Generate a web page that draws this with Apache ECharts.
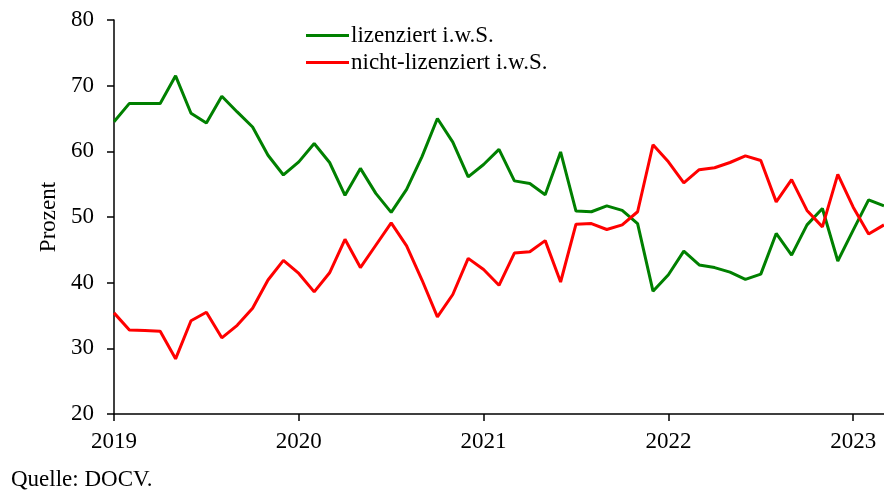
<!DOCTYPE html>
<html>
<head>
<meta charset="utf-8">
<script src="https://cdn.jsdelivr.net/npm/echarts@6/dist/echarts.min.js"></script>
<style>html,body{margin:0;padding:0;background:#fff}#c{width:884px;height:495px}</style>
</head>
<body>
<div id="c"></div>
<script>
const years = [2019, 2020, 2021, 2022, 2023];
const monthsInLastYear = 3;
const categories = [];
years.forEach(function (y, yi) {
  const n = yi === years.length - 1 ? monthsInLastYear : 12;
  for (let m = 1; m <= n; m++) categories.push(y + '-' + (m < 10 ? '0' + m : m));
});
const licensed = [64.5, 67.3, 67.3, 67.3, 71.5, 65.8, 64.3, 68.4, 66.0, 63.7, 59.4, 56.4,
                  58.4, 61.2, 58.3, 53.3, 57.4, 53.6, 50.7, 54.2, 59.2, 65.0, 61.4, 56.1,
                  58.0, 60.3, 55.5, 55.1, 53.4, 59.9, 50.9, 50.8, 51.7, 51.0, 49.0, 38.7,
                  41.2, 44.8, 42.7, 42.3, 41.6, 40.5, 41.3, 47.5, 44.2, 48.8, 51.3, 43.3,
                  48.0, 52.6, 51.7];
const unlicensed = [35.4, 32.8, 32.7, 32.6, 28.4, 34.2, 35.5, 31.6, 33.5, 36.1, 40.4, 43.4,
                    41.4, 38.6, 41.5, 46.6, 42.3, 45.7, 49.1, 45.6, 40.4, 34.8, 38.2, 43.7,
                    42.0, 39.6, 44.5, 44.7, 46.4, 40.1, 48.9, 49.0, 48.1, 48.8, 50.8, 61.0,
                    58.4, 55.2, 57.2, 57.5, 58.3, 59.3, 58.6, 52.3, 55.7, 51.0, 48.5, 56.5,
                    51.5, 47.4, 48.8];
const seriesNames = ['lizenziert i.w.S.', 'nicht-lizenziert i.w.S.'];
const yTicks = [20, 30, 40, 50, 60, 70, 80];
const yLabel = 'Prozent';
const sourceText = 'Quelle: DOCV.';

const font = 'Liberation Serif, Times New Roman, serif';
const FS = 23;
const chart = echarts.init(document.getElementById('c'), null, {renderer: 'canvas'});
chart.setOption({
  animation: false,
  backgroundColor: '#fff',
  title: {
    text: sourceText, left: 6, bottom: -1,
    textStyle: {fontFamily: font, fontSize: FS, fontWeight: 'normal', color: '#000'}
  },
  legend: {
    orient: 'vertical', left: 301, top: 19, itemGap: 4,
    itemWidth: 43, itemHeight: 14,
    icon: 'path://M0,5.5 L43,5.5 L43,8.5 L0,8.5 Z',
    textStyle: {fontFamily: font, fontSize: FS, color: '#000', padding: [0, 0, 0, -3]},
    data: seriesNames
  },
  grid: {left: 114, right: 0, top: 20, bottom: 81, containLabel: false},
  xAxis: {
    type: 'category', data: categories, boundaryGap: false,
    axisLine: {lineStyle: {color: '#000', width: 1.5}},
    axisTick: {show: true, length: 7, lineStyle: {color: '#000', width: 1.5},
      interval: function (i) { return i % 12 === 0; }},
    axisLabel: {interval: function (i) { return i % 12 === 0; },
      formatter: function (v) { return v.slice(0, 4); },
      fontFamily: font, fontSize: FS, color: '#000', margin: 16},
    splitLine: {show: false}
  },
  yAxis: {
    type: 'value', min: yTicks[0], max: yTicks[yTicks.length - 1], interval: 10,
    name: yLabel, nameLocation: 'middle', nameGap: 49, nameRotate: 90,
    nameTextStyle: {fontFamily: font, fontSize: FS, color: '#000'},
    axisLine: {show: true, lineStyle: {color: '#000', width: 1.5}},
    axisTick: {show: true, length: 7, lineStyle: {color: '#000', width: 1.5}},
    axisLabel: {fontFamily: font, fontSize: FS, color: '#000', margin: 20},
    splitLine: {show: false}
  },
  series: [
    {name: seriesNames[0], type: 'line', data: licensed, symbol: 'none',
     lineStyle: {color: '#008000', width: 3}, itemStyle: {color: '#008000'}},
    {name: seriesNames[1], type: 'line', data: unlicensed, symbol: 'none',
     lineStyle: {color: '#ff0000', width: 3}, itemStyle: {color: '#ff0000'}}
  ]
});
</script>
</body>
</html>
